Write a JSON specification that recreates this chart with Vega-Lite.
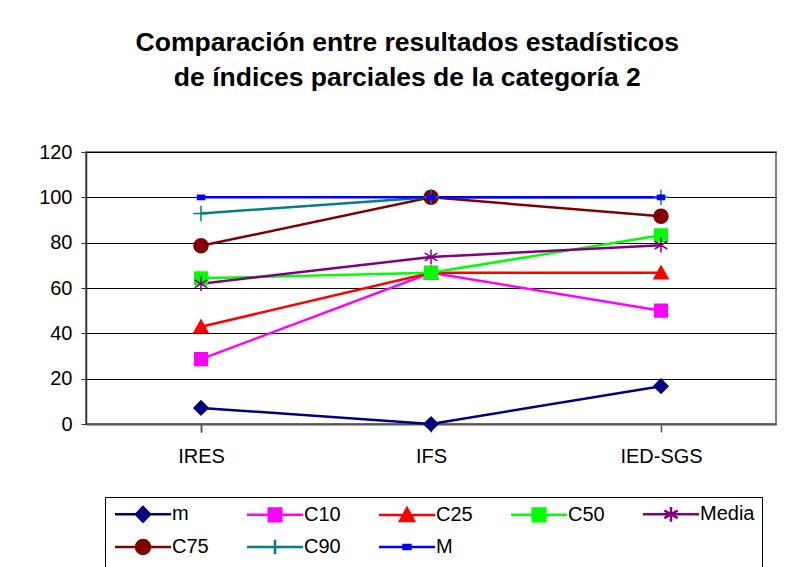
{
  "$schema": "https://vega.github.io/schema/vega-lite/v6.json",
  "width": 690,
  "height": 272,
  "autosize": "none",
  "padding": {"left": 86, "top": 152, "right": 12, "bottom": 143},
  "background": "white",
  "title": {
    "text": ["Comparación entre resultados estadísticos", "de índices parciales de la categoría 2"],
    "font": "Liberation Sans",
    "fontSize": 26.5,
    "fontWeight": "bold",
    "color": "black",
    "anchor": "middle",
    "frame": "bounds",
    "lineHeight": 35,
    "offset": 51
  },
  "data": {
    "values": [
      {"cat": "IRES", "serie": "m", "v": 7.1},
      {"cat": "IFS", "serie": "m", "v": 0},
      {"cat": "IED-SGS", "serie": "m", "v": 16.7},
      {"cat": "IRES", "serie": "C10", "v": 28.6},
      {"cat": "IFS", "serie": "C10", "v": 66.7},
      {"cat": "IED-SGS", "serie": "C10", "v": 50},
      {"cat": "IRES", "serie": "C25", "v": 42.9},
      {"cat": "IFS", "serie": "C25", "v": 66.7},
      {"cat": "IED-SGS", "serie": "C25", "v": 66.7},
      {"cat": "IRES", "serie": "C50", "v": 64.3},
      {"cat": "IFS", "serie": "C50", "v": 66.7},
      {"cat": "IED-SGS", "serie": "C50", "v": 83.3},
      {"cat": "IRES", "serie": "Media", "v": 61.9},
      {"cat": "IFS", "serie": "Media", "v": 73.7},
      {"cat": "IED-SGS", "serie": "Media", "v": 78.9},
      {"cat": "IRES", "serie": "C75", "v": 78.6},
      {"cat": "IFS", "serie": "C75", "v": 100},
      {"cat": "IED-SGS", "serie": "C75", "v": 91.7},
      {"cat": "IRES", "serie": "C90", "v": 92.9},
      {"cat": "IFS", "serie": "C90", "v": 100},
      {"cat": "IED-SGS", "serie": "C90", "v": 100},
      {"cat": "IRES", "serie": "M", "v": 100},
      {"cat": "IFS", "serie": "M", "v": 100},
      {"cat": "IED-SGS", "serie": "M", "v": 100}
    ]
  },
  "encoding": {
    "x": {
      "field": "cat",
      "type": "nominal",
      "sort": ["IRES", "IFS", "IED-SGS"],
      "scale": {"paddingInner": 0, "paddingOuter": 0},
      "axis": {
        "title": null,
        "labelAngle": 0,
        "labelFont": "Liberation Sans",
        "labelFontSize": 20,
        "labelColor": "black",
        "labelPadding": 14,
        "tickSize": 8,
        "tickColor": "#555555",
        "tickWidth": 1.5,
        "bandPosition": 1,
        "tickExtra": true,
        "domainColor": "#555555",
        "domainWidth": 2,
        "grid": false
      }
    },
    "y": {
      "field": "v",
      "type": "quantitative",
      "scale": {"domain": [0, 120], "nice": false},
      "axis": {
        "title": null,
        "values": [0, 20, 40, 60, 80, 100, 120],
        "labelFont": "Liberation Sans",
        "labelFontSize": 20,
        "labelColor": "black",
        "labelPadding": 9,
        "tickSize": 5,
        "tickColor": "#333333",
        "domainColor": "#333333",
        "domainWidth": 1.5,
        "grid": true,
        "gridColor": "black",
        "gridWidth": 1
      }
    }
  },
  "layer": [
    {
      "mark": {"type": "line", "strokeWidth": 2.5},
      "encoding": {
        "color": {
          "field": "serie",
          "type": "nominal",
          "scale": {
            "domain": ["m", "C10", "C25", "C50", "Media", "C75", "C90", "M"],
            "range": ["#000080", "#FF00FF", "#FF0000", "#00FF00", "#800080", "#800000", "#008080", "#0000FF"]
          },
          "legend": null
        }
      }
    },
    {
      "mark": {"type": "point", "filled": true, "size": 196, "strokeWidth": 1.5, "opacity": 1},
      "encoding": {
        "fill": {
          "field": "serie",
          "type": "nominal",
          "scale": {
            "domain": ["m", "C10", "C25", "C50", "Media", "C75", "C90", "M"],
            "range": ["#000080", "#FF00FF", "#FF0000", "#00FF00", "#800080", "#800000", "#008080", "#0000FF"]
          },
          "legend": null
        },
        "stroke": {
          "field": "serie",
          "type": "nominal",
          "scale": {
            "domain": ["m", "C10", "C25", "C50", "Media", "C75", "C90", "M"],
            "range": ["#000080", "#FF00FF", "#FF0000", "#00FF00", "#800080", "#800000", "#008080", "#0000FF"]
          },
          "legend": null
        },
        "shape": {
          "field": "serie",
          "type": "nominal",
          "scale": {
            "domain": ["m", "C10", "C25", "C50", "Media", "C75", "C90", "M"],
            "range": [
              "M-1,0L0,-1L1,0L0,1Z",
              "M-0.9,-0.9H0.9V0.9H-0.9Z",
              "M-1,0.85L0,-0.95L1,0.85Z",
              "M-0.9,-0.9H0.9V0.9H-0.9Z",
              "M0,-1.05V1.05M-0.9,-0.55L0.9,0.55M-0.9,0.55L0.9,-0.55",
              "M-1,0A1,1,0,1,0,1,0A1,1,0,1,0,-1,0Z",
              "M-1.1,0H1.1M0,-1.1V1.1",
              "M-0.5,-0.3H0.5V0.3H-0.5Z"
            ]
          },
          "legend": null
        }
      }
    },
    {
      "transform": [{"filter": "false"}],
      "mark": {"type": "point", "filled": true, "strokeWidth": 2.5, "opacity": 1},
      "encoding": {
        "fill": {
          "field": "serie",
          "type": "nominal",
          "scale": {
            "domain": ["m", "C10", "C25", "C50", "Media", "C75", "C90", "M"],
            "range": ["#000080", "#FF00FF", "#FF0000", "#00FF00", "#800080", "#800000", "#008080", "#0000FF"]
          },
          "legend": {
            "title": null,
            "orient": "none",
            "legendX": 19,
            "legendY": 345,
            "direction": "horizontal",
            "columns": 5,
            "gridAlign": "all",
            "columnPadding": 15,
            "rowPadding": 7,
            "padding": 7,
            "strokeColor": "black",
            "labelFont": "Liberation Sans",
            "labelFontSize": 20,
            "labelColor": "black",
            "labelOffset": 40,
            "symbolSize": 196,
            "symbolStrokeWidth": 2.5,
            "symbolOpacity": 1
          }
        },
        "stroke": {
          "field": "serie",
          "type": "nominal",
          "scale": {
            "domain": ["m", "C10", "C25", "C50", "Media", "C75", "C90", "M"],
            "range": ["#000080", "#FF00FF", "#FF0000", "#00FF00", "#800080", "#800000", "#008080", "#0000FF"]
          }
        },
        "shape": {
          "field": "serie",
          "type": "nominal",
          "scale": {
            "domain": ["m", "C10", "C25", "C50", "Media", "C75", "C90", "M"],
            "range": [
              "M-1,0H7M2,0L3,-1.05L4,0L3,1.05Z",
              "M-1,0H7M2.1,-0.9H3.9V0.9H2.1Z",
              "M-1,0H7M2,0.85L3,-1L4,0.85Z",
              "M-1,0H7M2.1,-0.9H3.9V0.9H2.1Z",
              "M-1,0H7M3,-1.05V1.05M2.05,-0.55L3.95,0.55M2.05,0.55L3.95,-0.55",
              "M-1,0H7M2,0A1,1,0,1,0,4,0A1,1,0,1,0,2,0Z",
              "M-1,0H7M3,-1.05V1.05",
              "M-1,0H7M2.5,-0.3H3.5V0.3H2.5Z"
            ]
          }
        }
      }
    }
  ],
  "resolve": {
    "scale": {"color": "independent", "fill": "independent", "stroke": "independent", "shape": "independent"},
    "legend": {"fill": "independent", "stroke": "independent", "shape": "independent"}
  },
  "config": {
    "view": {"stroke": "#808080", "strokeWidth": 2},
    "font": "Liberation Sans"
  }
}
